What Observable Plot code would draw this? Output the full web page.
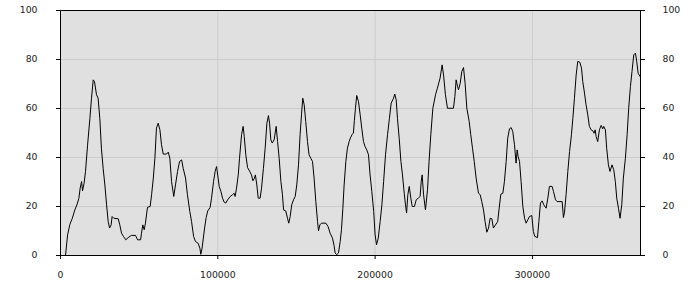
<!DOCTYPE html>
<html>
<head>
<meta charset="utf-8">
<script src="https://cdn.jsdelivr.net/npm/d3@7"></script>
<script src="https://cdn.jsdelivr.net/npm/@observablehq/plot@0.6"></script>
<style>
  html, body { margin: 0; padding: 0; background: #ffffff; }
</style>
</head>
<body>
<div id="chart"></div>
<script>
const xTicks = [0, 100000, 200000, 300000];
const yTicks = [0, 20, 40, 60, 80, 100];

const xs = [
  3200, 4500, 6000, 7400, 9100, 10600, 11700, 12500, 13400, 14000, 15000, 15900, 17200, 18700, 19700, 20800, 21600, 22900, 23900, 25000,
  26000, 27100, 28200, 29300, 30300, 31200, 32200, 32800, 33900, 36700, 37700, 38800, 40000, 41500, 43000, 45100, 47700, 49000, 50900, 51500,
  52300, 53200, 54000, 55300, 57000, 57900, 59000, 60000, 61000, 62100, 63200, 64200, 65300, 67400, 68500, 69500, 70600, 72000, 73100, 74400,
  75700, 77000, 78000, 79500, 80700, 82200, 83300, 84600, 85800, 87500, 88600, 89200, 90000, 91600, 92600, 93600, 95100, 96000, 97300, 98300,
  99200, 100200, 100900, 102000, 103000, 104000, 105100, 106200, 107900, 109300, 110400, 111000, 111900, 113000, 113800, 115100, 116100, 116800, 117800, 118900,
  120300, 121400, 122300, 123100, 123900, 124800, 125700, 126900, 127800, 129000, 130100, 131200, 132200, 132900, 133700, 134600, 135800, 137100, 138000, 139000,
  140100, 141100, 141800, 143200, 144300, 145100, 146000, 147000, 148100, 149200, 150200, 151300, 152300, 153200, 154000, 154900, 155900, 157000, 158000, 159100,
  160200, 161200, 162300, 163400, 164000, 164900, 165900, 168700, 170100, 171400, 172900, 173900, 174600, 175600, 176700, 177800, 178600, 179500, 180300, 181400,
  182400, 183500, 184300, 185400, 186200, 186800, 187500, 188300, 189400, 190500, 191500, 192600, 193600, 194700, 195800, 196800, 197900, 199100, 200000, 200900,
  202000, 203200, 204300, 205400, 206600, 207900, 209100, 210200, 211700, 212500, 213400, 214200, 215300, 216400, 217400, 218500, 219300, 220000, 220800, 221700,
  222700, 223600, 225000, 226100, 227400, 228600, 229300, 229900, 230800, 232000, 233300, 234300, 235400, 236700, 238400, 239600, 241300, 242600, 243500, 244700,
  246000, 249800, 250700, 251500, 252400, 253000, 254100, 255100, 256200, 257200, 258300, 259800, 260800, 261900, 263000, 264200, 265700, 266800, 267800, 268900,
  269900, 271000, 272100, 273100, 274200, 275200, 276500, 277900, 278800, 279900, 281200, 282200, 283300, 284300, 285400, 286500, 287500, 288600, 289600, 290300,
  290900, 291800, 292800, 293900, 295000, 296000, 297100, 298100, 299600, 300600, 301500, 303200, 304100, 305100, 306200, 307200, 308700, 309800, 310800, 312500,
  313400, 314700, 315700, 318900, 319700, 320400, 321400, 322500, 323600, 324800, 325700, 326700, 327800, 328800, 330100, 331200, 332000, 333100, 334100, 335200,
  336200, 337300, 338400, 339200, 339900, 340500, 341500, 342600, 343700, 344700, 345300, 346400, 347200, 348300, 349300, 350600, 351700, 352700, 353600, 354700,
  355700, 356800, 357800, 359100, 360200, 361200, 362300, 363300, 364400, 365500, 366300, 367200, 368400
];

const ys = [
  0, 8.4, 12.8, 15, 18.6, 21, 23.4, 27.5, 30.2, 26.4, 29.5, 34.3, 45, 56, 64.2, 71.7, 71, 65.6, 64.2, 56,
  43.8, 35.6, 28.8, 20.7, 13.9, 11.2, 12.5, 15.9, 15.2, 15, 12.5, 9.1, 7.8, 6.4, 7.3, 8.2, 8.2, 6.4, 6.4, 9.1,
  12.5, 10.5, 13.2, 19.7, 20, 24.8, 31.6, 39.7, 52, 54, 51.3, 45.2, 41.4, 41.4, 42.2, 39.7, 30.2, 24.1, 28.8, 34.3,
  38.4, 39, 35.6, 31.6, 24.8, 18, 13.9, 7.8, 5.7, 5, 3, 0.5, 3, 11.2, 15.5, 18.2, 19.6, 23.4, 30.2, 34.3,
  36.3, 31.6, 28.2, 26.1, 23.4, 21.8, 21.4, 22.7, 24.1, 24.8, 25.4, 24.1, 27.5, 32.9, 39.7, 49.3, 52.7, 48.6, 41.1, 35.9,
  34.3, 32.9, 30.5, 31.3, 32.9, 28.8, 23.4, 23.4, 27.5, 35.6, 43.8, 54, 57.1, 54, 47.2, 45.9, 47.2, 52.7, 46.5, 39.7,
  30.2, 24.8, 18.6, 18.2, 15.2, 13.2, 15.9, 20.7, 22.7, 24.1, 28.8, 37, 49.3, 57.4, 64.2, 61.5, 54.7, 46.5, 41.1, 39.7,
  38.4, 31.6, 22, 13.9, 10.1, 12.5, 13.2, 13.2, 11.8, 9.1, 7.1, 4.1, 1, 0.3, 1, 5.7, 10.5, 19.3, 28.8, 38.4,
  43.8, 46.5, 48, 49.4, 50, 55, 60.1, 65.3, 62.9, 57.4, 52, 46.5, 44.5, 43.1, 41.1, 32.9, 26.1, 18, 8.4, 4.4,
  7.1, 13.9, 20.7, 30.2, 41.1, 49.3, 56, 62.2, 64.2, 65.9, 63.5, 56, 47.9, 38.4, 32.9, 25.4, 20.7, 17.3, 24.8, 28.2,
  23.4, 20, 20, 22.7, 23.4, 24.1, 30.2, 32.9, 24.8, 18.6, 26.8, 38.4, 49.3, 60.1, 65.6, 68.3, 72.4, 77.8, 73.7, 65.6,
  60.1, 60.1, 64.9, 71.7, 69, 67.6, 70.3, 75.1, 76.7, 70.3, 60.1, 54.7, 49.3, 43.8, 38.4, 31.6, 25.4, 24.8, 22, 18.6,
  13.9, 9.5, 11.2, 15.2, 15, 11.2, 12.5, 13.8, 19, 25, 25.4, 30.2, 38.4, 47.9, 51.7, 52.2, 50.6, 45.2, 37.7, 43.1,
  40.4, 38.4, 30.2, 20, 15.2, 13.2, 14.6, 15.9, 16.3, 9.8, 7.8, 7.3, 13.9, 21.4, 22.3, 20.7, 19.3, 23.4, 28.2, 28.2,
  26.1, 22.7, 22, 22, 15.5, 17.7, 24.8, 34.3, 42.4, 49.3, 56, 64.2, 73.7, 79.2, 78.9, 76.5, 71, 66.3, 61.5, 57.4,
  52.7, 51.3, 50.9, 49.9, 51.3, 48.6, 46.5, 51.3, 53.1, 51.7, 52.7, 51.3, 43.8, 37, 34.3, 37, 35, 30.2, 23.4, 19.3,
  15.2, 20.7, 31.6, 39.7, 49.3, 60.1, 69, 75.1, 81.9, 82.6, 79.2, 74.4, 73.1
];

const data = xs.map((x, i) => ({x, y: ys[i]}));

const chart = Plot.plot({
  width: 700,
  height: 300,
  marginLeft: 60,
  marginRight: 60,
  marginTop: 10,
  marginBottom: 45,
  style: {fontFamily: "DejaVu Sans", fontSize: "9.3px", color: "#222", background: "#ffffff"},
  x: {domain: [0, 368700]},
  y: {domain: [0, 100]},
  marks: [
    Plot.frame({fill: "#e0e0e0"}),
    Plot.gridX(xTicks.slice(1), {stroke: "#cccccc", strokeOpacity: 1}),
    Plot.gridY(yTicks.slice(1, -1), {stroke: "#cccccc", strokeOpacity: 1}),
    Plot.line(data, {x: "x", y: "y", stroke: "#000", strokeWidth: 1}),
    Plot.frame({stroke: "#000", strokeWidth: 1}),
    Plot.axisX(xTicks, {tickSize: 4, tickPadding: 12, tickFormat: d3.format("d"), label: null, stroke: "#000"}),
    Plot.axisY(yTicks, {anchor: "left", tickSize: 4, tickPadding: 19, label: null, stroke: "#000"}),
    Plot.axisY(yTicks, {anchor: "right", tickSize: 4, tickPadding: 18, label: null, stroke: "#000"})
  ]
});
document.getElementById("chart").appendChild(chart);
</script>
</body>
</html>
